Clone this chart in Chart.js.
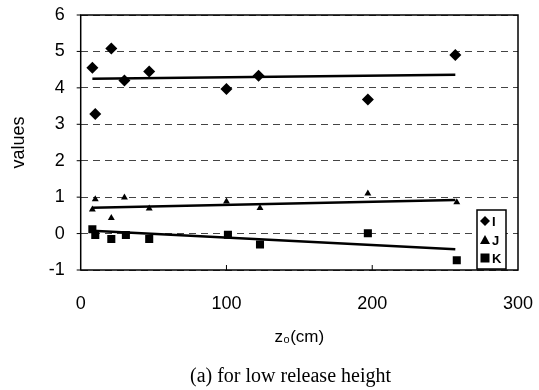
<!DOCTYPE html>
<html><head><meta charset="utf-8">
<script src="https://cdn.jsdelivr.net/npm/chart.js@4/dist/chart.umd.min.js"></script>
<style>
html,body{margin:0;padding:0;background:#fff;}
#wrap{position:relative;width:539px;height:390px;}
#caption{position:absolute;left:190px;top:364px;white-space:nowrap;font-family:"Liberation Serif","Times New Roman",serif;font-size:20px;line-height:22px;color:#000;}
</style></head>
<body><div id="wrap"><canvas id="c" width="539" height="390"></canvas><div id="caption">(a) for low release height</div></div>
<script>
const xI = [8, 10, 21, 30, 47, 100, 122, 197, 257];
const valuesI = [4.55, 3.28, 5.08, 4.2, 4.45, 3.97, 4.33, 3.68, 4.9];
const xJ = [10, 8, 21, 30, 47, 100, 123, 197, 258];
const valuesJ = [0.94, 0.66, 0.43, 0.99, 0.69, 0.88, 0.7, 1.1, 0.86];
const xK = [8, 10, 21, 31, 47, 101, 123, 197, 258];
const valuesK = [0.12, -0.04, -0.15, -0.04, -0.15, -0.03, -0.3, 0.01, -0.73];
const trendX = [8, 257];
const trendI = [4.25, 4.36];
const trendJ = [0.71, 0.92];
const trendK = [0.08, -0.43];
const seriesNames = ['I', 'J', 'K'];
const xTicks = [0, 100, 200, 300];

const pts = (xs, ys) => xs.map((x, i) => ({x: x, y: ys[i]}));

const frame = {
  id: 'frame',
  afterDraw(chart) {
    const {ctx, chartArea: a, scales} = chart;
    ctx.save();
    ctx.strokeStyle = '#000'; ctx.lineWidth = 1.5;
    ctx.strokeRect(a.left, a.top, a.right - a.left, a.bottom - a.top);
    ctx.lineWidth = 1;
    xTicks.slice(1, -1).forEach(v => {
      const px = scales.x.getPixelForValue(v);
      ctx.beginPath(); ctx.moveTo(px, a.bottom); ctx.lineTo(px, a.bottom - 5); ctx.stroke();
    });
    for (let v = -1; v <= 6; v++) {
      const py = scales.y.getPixelForValue(v);
      ctx.beginPath(); ctx.moveTo(a.left - 4, py); ctx.lineTo(a.left, py); ctx.stroke();
    }
    // legend
    const bx = a.right - 41, by = a.bottom - 60, bw = 29, bh = 59;
    ctx.fillStyle = '#fff'; ctx.fillRect(bx, by, bw, bh);
    ctx.lineWidth = 1.5; ctx.strokeRect(bx, by, bw, bh);
    ctx.fillStyle = '#000';
    ctx.font = 'bold 13px "Liberation Sans", Arial, sans-serif';
    ctx.textBaseline = 'middle'; ctx.textAlign = 'left';
    const rows = [by + 11, by + 30, by + 48];
    const mx = bx + 8;
    ctx.beginPath(); ctx.moveTo(mx, rows[0] - 5); ctx.lineTo(mx + 5, rows[0]); ctx.lineTo(mx, rows[0] + 5); ctx.lineTo(mx - 5, rows[0]); ctx.closePath(); ctx.fill();
    ctx.beginPath(); ctx.moveTo(mx, rows[1] - 5); ctx.lineTo(mx + 5, rows[1] + 4); ctx.lineTo(mx - 5, rows[1] + 4); ctx.closePath(); ctx.fill();
    ctx.fillRect(mx - 4.5, rows[2] - 4.5, 9, 9);
    seriesNames.forEach((n, i) => ctx.fillText(n, bx + 15, rows[i] + 1));
    ctx.restore();
  }
};

const font = {family: '"Liberation Sans", Arial, sans-serif', size: 18};

new Chart(document.getElementById('c'), {
  type: 'scatter',
  data: {
    datasets: [
      {label: 'I', data: pts(xI, valuesI), pointStyle: 'rectRot', pointRadius: 6, backgroundColor: '#000', borderColor: '#000', borderWidth: 0},
      {label: 'J', data: pts(xJ, valuesJ), pointStyle: 'triangle', pointRadius: 4, backgroundColor: '#000', borderColor: '#000', borderWidth: 0},
      {label: 'K', data: pts(xK, valuesK), pointStyle: 'rect', pointRadius: 5.7, backgroundColor: '#000', borderColor: '#000', borderWidth: 0},
      {label: 'trend I', data: pts(trendX, trendI), showLine: true, pointRadius: 0, borderColor: '#000', borderWidth: 2.5},
      {label: 'trend J', data: pts(trendX, trendJ), showLine: true, pointRadius: 0, borderColor: '#000', borderWidth: 2.5},
      {label: 'trend K', data: pts(trendX, trendK), showLine: true, pointRadius: 0, borderColor: '#000', borderWidth: 2.5}
    ]
  },
  options: {
    responsive: false, animation: false, devicePixelRatio: 1,
    layout: {padding: {left: 0, right: 21, top: 15, bottom: 40}},
    plugins: {legend: {display: false}, tooltip: {enabled: false}},
    scales: {
      x: {
        type: 'linear', min: 0, max: 300,
        afterBuildTicks: s => { s.ticks = xTicks.map(v => ({value: v})); },
        afterFit: s => { s.height = 80; s.paddingLeft = 0; s.paddingRight = 0; },
        grid: {display: false, drawTicks: false},
        border: {display: false},
        ticks: {color: '#000', font: font, padding: 23, maxRotation: 0},
        title: {display: true, text: 'z₀(cm)', color: '#000', font: {family: font.family, size: 17}, padding: {top: 4, bottom: 2}}
      },
      y: {
        min: -1, max: 6,
        ticks: {stepSize: 1, color: '#000', font: font, padding: 16},
        afterFit: s => { s.width = 80.7; s.paddingTop = 0; s.paddingBottom = 0; },
        grid: {color: '#444', lineWidth: 1, drawTicks: false},
        border: {display: false, dash: [7, 5]},
        title: {display: true, text: 'values', color: '#000', font: {family: font.family, size: 18}, padding: {top: 8, bottom: 0}}
      }
    }
  },
  plugins: [frame]
});
</script>
</body></html>
